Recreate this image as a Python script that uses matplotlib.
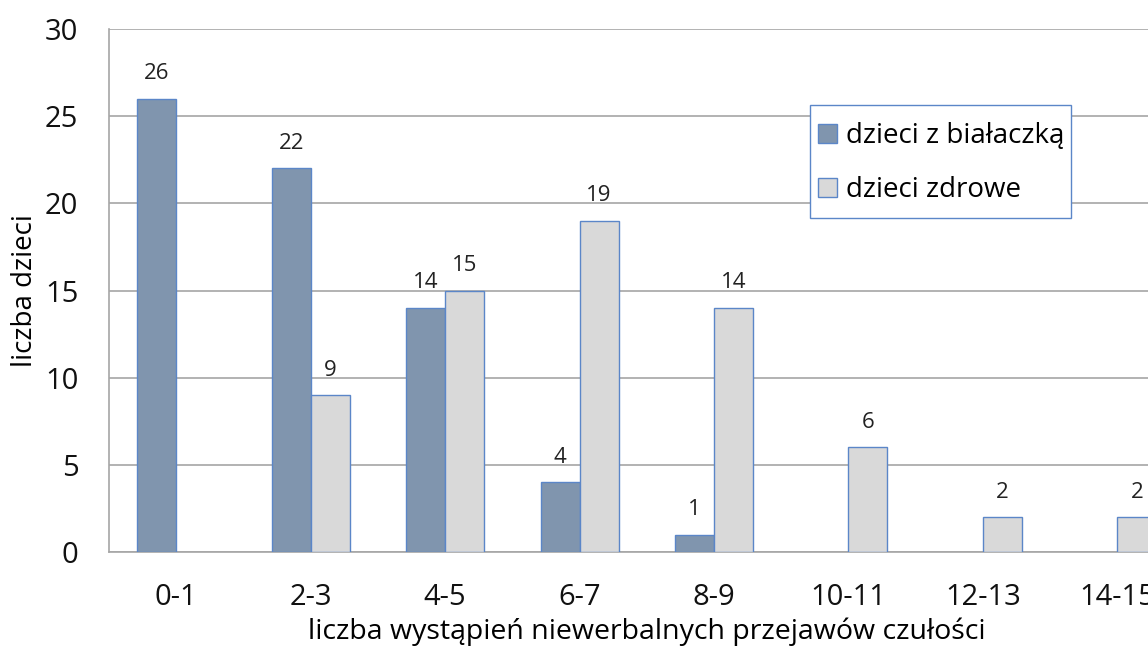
import matplotlib.pyplot as plt
from matplotlib.patches import Patch, Rectangle
import numpy as np

plt.rcParams['font.family'] = ['Open Sans', 'DejaVu Sans']

categories = ["0-1", "2-3", "4-5", "6-7", "8-9", "10-11", "12-13", "14-15"]
bialaczka = [26, 22, 14, 4, 1, 0, 0, 0]
zdrowe = [0, 9, 15, 19, 14, 6, 2, 2]

dark = "#8095AE"
light = "#D9D9D9"
edge = "#5B86C8"
grid_c = "#A6A6A6"

fig = plt.figure(figsize=(11.48, 6.46), dpi=100)
# plot area runs past the right edge of the figure
ax = fig.add_axes([0.0949, 0.1455, 0.937, 0.8096])

x = np.arange(len(categories))
w = 0.29
b1 = ax.bar(x - w / 2, bialaczka, w, color=dark, edgecolor=edge, linewidth=1, zorder=3)
b2 = ax.bar(x + w / 2, zdrowe, w, color=light, edgecolor=edge, linewidth=1, zorder=3)

for bars, vals in ((b1, bialaczka), (b2, zdrowe)):
    for r, v in zip(bars, vals):
        if v == 0:
            r.set_visible(False)
            continue
        ax.annotate(str(v), (r.get_x() + r.get_width() / 2, v), xytext=(0, 18),
                    textcoords="offset points", ha="center", va="center", fontsize=16, color="#222222")

ax.set_xlim(-0.5, len(categories) - 0.5)
ax.set_ylim(0, 30)
ax.set_yticks(range(0, 31, 5))
ax.set_xticks(x)
ax.set_xticklabels(categories)
ax.yaxis.grid(True, color=grid_c, linewidth=1.2, zorder=0)
ax.set_axisbelow(True)
for s in ("top", "right"):
    ax.spines[s].set_visible(False)
for s in ("left", "bottom"):
    ax.spines[s].set_color(grid_c)
    ax.spines[s].set_linewidth(1.2)
ax.tick_params(axis="both", length=0, labelsize=21, colors="#111111")
ax.tick_params(axis="x", pad=22)
ax.tick_params(axis="y", pad=22)

ax.set_xlabel("liczba wystąpień niewerbalnych przejawów czułości", fontsize=20.5, labelpad=4)
ax.set_ylabel("liczba dzieci", fontsize=20, labelpad=4)

# legend box drawn separately so it can be taller than the entries need
box = Rectangle((810 / 1148, 1 - 218 / 646), 261 / 1148, 113 / 646, transform=fig.transFigure,
                facecolor="white", edgecolor=edge, linewidth=1, zorder=5)
fig.patches.append(box)

handles = [Patch(facecolor=dark, edgecolor=edge, linewidth=1),
           Patch(facecolor=light, edgecolor=edge, linewidth=1)]
labels = ["dzieci z białaczką", "dzieci zdrowe"]
leg = fig.legend(handles, labels, loc="center left", bbox_to_anchor=(818 / 1148, 1 - 163 / 646),
                 fontsize=20, frameon=False, handlelength=0.68, handleheight=0.68,
                 handletextpad=0.32, labelspacing=0.95, borderpad=0, borderaxespad=0)
leg.set_zorder(6)

fig.savefig("out.png", dpi=100)
